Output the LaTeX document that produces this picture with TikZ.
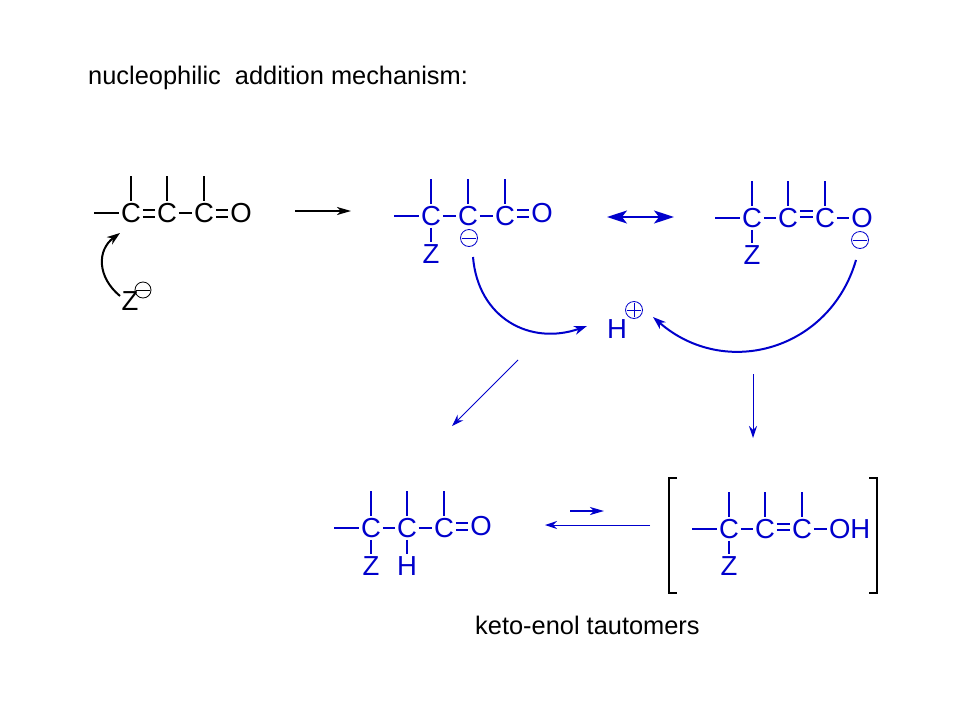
\documentclass[tikz,border=0pt]{standalone}
\usepackage{fontspec}
\setmainfont{Liberation Sans}
\usetikzlibrary{arrows.meta}
\definecolor{chemblue}{RGB}{0,0,204}
\tikzset{
  x=1pt,y=-1pt,
  atom/.style={inner sep=2pt,outer sep=0pt,font=\fontsize{27.5}{27.5}\selectfont,text height=19.7pt,text depth=0pt,anchor=center},
  bond/.style={line width=2pt},
  caption/.style={font=\fontsize{25.4}{28}\selectfont,text=black,inner sep=0pt},
  charge/.style={circle,draw,line width=0.8pt,minimum size=17pt,inner sep=0pt},
  sign/.style={line width=0.8pt,shorten <=1.5pt,shorten >=1.5pt},
  mech/.style={line width=2pt,-{Stealth[length=13pt,width=9pt,inset=4pt]}},
  thin arrow/.style={line width=1pt,-{Stealth[length=12pt,width=8pt,inset=4pt]}},
  straight/.style={line width=1.8pt,-{Stealth[length=14pt,width=8pt,inset=4pt]}},
  both/.style={line width=1.8pt,{Stealth[length=20pt,width=13pt,inset=5pt]}-{Stealth[length=20pt,width=13pt,inset=5pt]}},
  bracket/.style={line width=2pt,line cap=butt,black},
}
% \chain{prefix}{y}{x1}{x2}{x3}: three carbons with their upright and left bonds
\newcommand{\chain}[5]{
  \node[atom] (#1c1) at (#3,#2) {C};
  \node[atom] (#1c2) at (#4,#2) {C};
  \node[atom] (#1c3) at (#5,#2) {C};
  \coordinate (#1l) at (#3-37,#2);
  \coordinate (#1t1) at (#3,#2-37);
  \coordinate (#1t2) at (#4,#2-37);
  \coordinate (#1t3) at (#5,#2-37);
  \draw[bond] (#1l) -- (#1c1);
  \draw[bond] (#1t1) -- (#1c1);
  \draw[bond] (#1t2) -- (#1c2);
  \draw[bond] (#1t3) -- (#1c3);
}
\newcommand{\dbl}[4]{
  \draw[bond] (#1.east |- 0,#3) -- (#2.west |- 0,#3);
  \draw[bond] (#1.east |- 0,#4) -- (#2.west |- 0,#4);
}
\begin{document}
\begin{tikzpicture}
\useasboundingbox (0,0) rectangle (960,720);
\fill[white] (0,0) rectangle (960,720);

\node[caption,anchor=west] (title) at (88,78) {nucleophilic\ \ addition mechanism:};
\node[caption,anchor=west] (keto) at (475,625) {keto-enol tautomers};

% first molecule (black)
\begin{scope}[black]
\chain{a}{213}{131}{167}{204}
\node[atom] (ao) at (241,213) {O};
\dbl{ac1}{ac2}{209.5}{216.5}
\draw[bond] (ac2) -- (ac3);
\dbl{ac3}{ao}{209.5}{216.5}
\node[atom] (az) at (130,301) {Z};
\node[charge,minimum size=16pt] (azc) at (143,290) {};
\draw[sign] (azc.west) -- (azc.east);
\coordinate (as) at (120,296);
\coordinate (ae) at (120,233);
\draw[mech] (as) .. controls (97,277) and (97,250) .. (ae);
\coordinate (r1) at (295,211);
\coordinate (r2) at (351,211);
\draw[straight] (r1) -- (r2);
\end{scope}

\begin{scope}[chemblue,text=chemblue]
% second molecule
\chain{b}{216}{431}{468}{505}
\node[atom] (bo) at (542,213) {O};
\draw[bond] (bc1) -- (bc2);
\draw[bond] (bc2) -- (bc3);
\dbl{bc3}{bo}{209.5}{216.5}
\node[atom] (bz) at (431,254) {Z};
\draw[bond] (bc1) -- (bz);
\node[charge] (bm) at (469,238) {};
\draw[sign] (bm.west) -- (bm.east);

\coordinate (res1) at (607,217);
\coordinate (res2) at (674,217);
\draw[both] (res1) -- (res2);

% third molecule
\chain{c}{218}{752}{788}{825}
\node[atom] (co) at (862,218) {O};
\draw[bond] (cc1) -- (cc2);
\dbl{cc2}{cc3}{211}{217}
\draw[bond] (cc3) -- (co);
\node[atom] (cz) at (752,255) {Z};
\draw[bond] (cc1) -- (cz);
\node[charge] (cm) at (860,240) {};
\draw[sign] (cm.west) -- (cm.east);

% proton
\node[atom] (h) at (617,329) {H};
\node[charge] (hp) at (634,310) {};
\draw[sign] (hp.west) -- (hp.east);
\draw[sign] (hp.north) -- (hp.south);

% curved mechanism arrows
\coordinate (b1) at (473,257);
\coordinate (b2) at (587,326);
\draw[mech] (b1) .. controls (478,318) and (530,346) .. (b2);
\coordinate (c1) at (856,260);
\coordinate (c2) at (653,317);
\draw[mech] (c1) .. controls (830,350) and (725,380) .. (c2);

% reaction arrows
\coordinate (d1) at (518,360);
\coordinate (d2) at (452,426);
\draw[thin arrow] (d1) -- (d2);
\coordinate (e1) at (753,374);
\coordinate (e2) at (753,438);
\draw[thin arrow] (e1) -- (e2);

% keto form
\chain{k}{528}{371}{407}{444}
\node[atom] (ko) at (481,526) {O};
\draw[bond] (kc1) -- (kc2);
\draw[bond] (kc2) -- (kc3);
\dbl{kc3}{ko}{522.5}{529.5}
\node[atom] (kz) at (371,566) {Z};
\node[atom] (kh) at (407,566) {H};
\draw[bond] (kc1) -- (kz);
\draw[bond] (kc2) -- (kh);

% equilibrium arrows
\coordinate (f1) at (570,511);
\coordinate (f2) at (604,511);
\draw[straight] (f1) -- (f2);
\coordinate (g1) at (650,525);
\coordinate (g2) at (545,525);
\draw[thin arrow] (g1) -- (g2);

% enol form
\chain{n}{529}{729}{765}{802}
\node[atom,anchor=west] (no) at (827,529) {OH};
\draw[bond] (nc1) -- (nc2);
\dbl{nc2}{nc3}{523.5}{530}
\draw[bond] (nc3) -- (no);
\node[atom] (nz) at (729,566) {Z};
\draw[bond] (nc1) -- (nz);
\end{scope}

% brackets
\draw[bracket] (677,478) -- (669,478) -- (669,593) -- (677,593);
\draw[bracket] (869,478) -- (877,478) -- (877,593) -- (869,593);
\end{tikzpicture}
\end{document}
